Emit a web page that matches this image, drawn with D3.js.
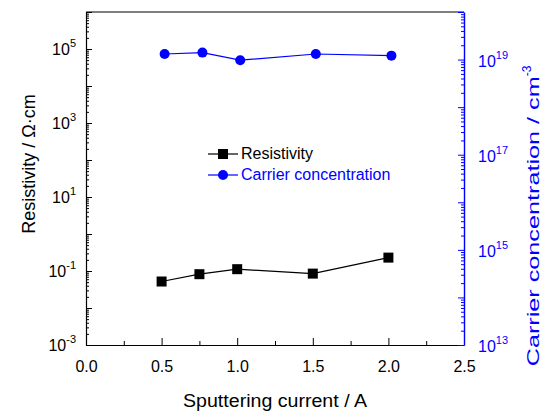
<!DOCTYPE html>
<html>
<head>
    <script src="https://cdn.jsdelivr.net/npm/d3@7"></script>
    <style>
        body { margin: 0; background: #fff; }
        text { font-family: 'Liberation Sans', Arial, sans-serif; }
    </style>
</head>
<body>
    <svg width="542" height="413" id="mainsvg"></svg>
    <script>
        const current = [0.5, 0.75, 1.0, 1.5, 2.0];
        const resistivity = [0.052, 0.082, 0.112, 0.085, 0.23];
        const carrierCurrent = [0.52, 0.77, 1.02, 1.52, 2.02];
        const carrier = [1.31e19, 1.40e19, 9.7e18, 1.31e19, 1.21e19];
        const xTicks = [0, 0.5, 1.0, 1.5, 2.0, 2.5];
        const leftTickExp = [-3, -1, 1, 3, 5];
        const rightTickExp = [13, 15, 17, 19];

        const svg = d3.select('#mainsvg');
        const margin = { top: 12, right: 78, bottom: 68, left: 86 };
        const innerWidth = 542 - margin.left - margin.right;
        const innerHeight = 413 - margin.top - margin.bottom;
        const g = svg.append('g').attr('transform', `translate(${margin.left}, ${margin.top})`);
        const blue = '#0000ff';

        const xScale = d3.scaleLinear().domain([0, 2.5]).range([0, innerWidth]);
        const yLeft = d3.scaleLog().domain([1e-3, 1e6]).range([innerHeight, 0]);
        const yRight = d3.scaleLog().domain([1e13, 1e20]).range([innerHeight, 0]);

        // log ticks: majors each decade, minors 2..9
        function logTicks(lo, hi) {
            const major = [], minor = [];
            for (let e = lo; e < hi; e++) {
                major.push(Math.pow(10, e));
                for (let m = 2; m <= 9; m++) minor.push(m * Math.pow(10, e));
            }
            major.push(Math.pow(10, hi));
            return { major, minor };
        }

        // frame top
        g.append('line').attr('x1', 0).attr('x2', innerWidth).attr('y1', 0).attr('y2', 0)
            .attr('stroke', '#000').attr('stroke-width', 1.2);

        // x axis
        const xMinor = d3.range(0.25, 2.5, 0.5);
        g.append('g').attr('transform', `translate(0, ${innerHeight})`)
            .call(d3.axisBottom(xScale).tickValues(xMinor).tickSize(-4).tickFormat(''))
            .call(a => { a.select('.domain').remove(); a.selectAll('text').remove(); });
        const xAxisG = g.append('g').attr('transform', `translate(0, ${innerHeight})`)
            .call(d3.axisBottom(xScale).tickValues(xTicks).tickSize(-7).tickSizeOuter(0)
                .tickPadding(16).tickFormat(d3.format('.1f')));
        xAxisG.select('.domain').attr('stroke-width', 1.2);
        xAxisG.selectAll('text').attr('font-size', 16).attr('fill', '#000')
            .attr('font-family', "'Liberation Sans', Arial, sans-serif");

        // left axis
        const lt = logTicks(-3, 6);
        g.append('g').call(d3.axisLeft(yLeft).tickValues(lt.minor).tickSize(-3).tickFormat(''))
            .call(a => { a.select('.domain').remove(); a.selectAll('text').remove(); });
        const leftG = g.append('g').call(d3.axisLeft(yLeft).tickValues(lt.major).tickSize(-6)
            .tickSizeOuter(0).tickFormat(''));
        leftG.select('.domain').attr('stroke-width', 1.2);
        leftG.selectAll('text').remove();
        const leftLab = g.append('g').selectAll('text').data(leftTickExp).join('text')
            .attr('x', -10).attr('y', d => yLeft(Math.pow(10, d)) + 6)
            .attr('text-anchor', 'end').attr('font-size', 16).attr('fill', '#000');
        leftLab.append('tspan').text('10');
        leftLab.append('tspan').attr('dy', -8).attr('font-size', 11).text(d => d);

        // right axis
        const rt = logTicks(13, 20);
        const rightMinor = g.append('g').attr('transform', `translate(${innerWidth}, 0)`)
            .call(d3.axisRight(yRight).tickValues(rt.minor).tickSize(-3).tickFormat(''));
        rightMinor.select('.domain').remove();
        rightMinor.selectAll('text').remove();
        rightMinor.selectAll('line').attr('stroke', blue);
        const rightG = g.append('g').attr('transform', `translate(${innerWidth}, 0)`)
            .call(d3.axisRight(yRight).tickValues(rt.major).tickSize(-6).tickSizeOuter(0).tickFormat(''));
        rightG.select('.domain').attr('stroke', blue).attr('stroke-width', 1.4);
        rightG.selectAll('text').remove();
        rightG.selectAll('line').attr('stroke', blue);
        const rightLab = g.append('g').selectAll('text').data(rightTickExp).join('text')
            .attr('x', innerWidth + 14).attr('y', d => yRight(Math.pow(10, d)) + 7)
            .attr('font-size', 16).attr('fill', blue);
        rightLab.append('tspan').text('10');
        rightLab.append('tspan').attr('dy', -8).attr('font-size', 11).text(d => d);

        // series
        const lineR = d3.line().x((d, i) => xScale(current[i])).y(d => yLeft(d));
        g.append('path').attr('d', lineR(resistivity)).attr('fill', 'none')
            .attr('stroke', '#000').attr('stroke-width', 1.2);
        g.selectAll('.sq').data(resistivity).join('rect').attr('class', 'sq')
            .attr('x', (d, i) => xScale(current[i]) - 5).attr('y', d => yLeft(d) - 5)
            .attr('width', 10).attr('height', 10).attr('fill', '#000');

        const lineC = d3.line().x((d, i) => xScale(carrierCurrent[i])).y(d => yRight(d));
        g.append('path').attr('d', lineC(carrier)).attr('fill', 'none')
            .attr('stroke', blue).attr('stroke-width', 1.2);
        g.selectAll('.ci').data(carrier).join('circle').attr('class', 'ci')
            .attr('cx', (d, i) => xScale(carrierCurrent[i])).attr('cy', d => yRight(d))
            .attr('r', 5).attr('fill', blue);

        // legend
        const leg = svg.append('g').attr('transform', 'translate(208, 154)');
        leg.append('line').attr('x1', 0).attr('x2', 30).attr('y1', 0).attr('y2', 0).attr('stroke', '#000').attr('stroke-width', 1.2);
        leg.append('rect').attr('x', 10).attr('y', -5).attr('width', 10).attr('height', 10).attr('fill', '#000');
        leg.append('text').attr('x', 33).attr('y', 5).attr('font-size', 16).attr('fill', '#000').text('Resistivity');
        leg.append('line').attr('x1', 0).attr('x2', 30).attr('y1', 21).attr('y2', 21).attr('stroke', blue).attr('stroke-width', 1.2);
        leg.append('circle').attr('cx', 15).attr('cy', 21).attr('r', 5).attr('fill', blue);
        leg.append('text').attr('x', 33).attr('y', 26).attr('font-size', 16).attr('fill', blue).text('Carrier concentration');

        // axis titles
        svg.append('text').attr('x', 275).attr('y', 407).attr('text-anchor', 'middle')
            .attr('font-size', 18).attr('fill', '#000')
            .attr('textLength', 184).attr('lengthAdjust', 'spacingAndGlyphs')
            .text('Sputtering current / A');
        svg.append('text').attr('transform', 'translate(35, 164) rotate(-90)').attr('text-anchor', 'middle')
            .attr('font-size', 18).attr('fill', '#000')
            .text('Resistivity / Ω·cm');
        const rt2 = svg.append('text').attr('transform', 'translate(539, 216) rotate(-90)').attr('text-anchor', 'middle')
            .attr('font-size', 17).attr('fill', blue);
        rt2.append('tspan').attr('textLength', 290).attr('lengthAdjust', 'spacingAndGlyphs')
            .text('Carrier concentration / cm');
        rt2.append('tspan').attr('dy', -8).attr('font-size', 12).text('-3');
    </script>
</body>
</html>
